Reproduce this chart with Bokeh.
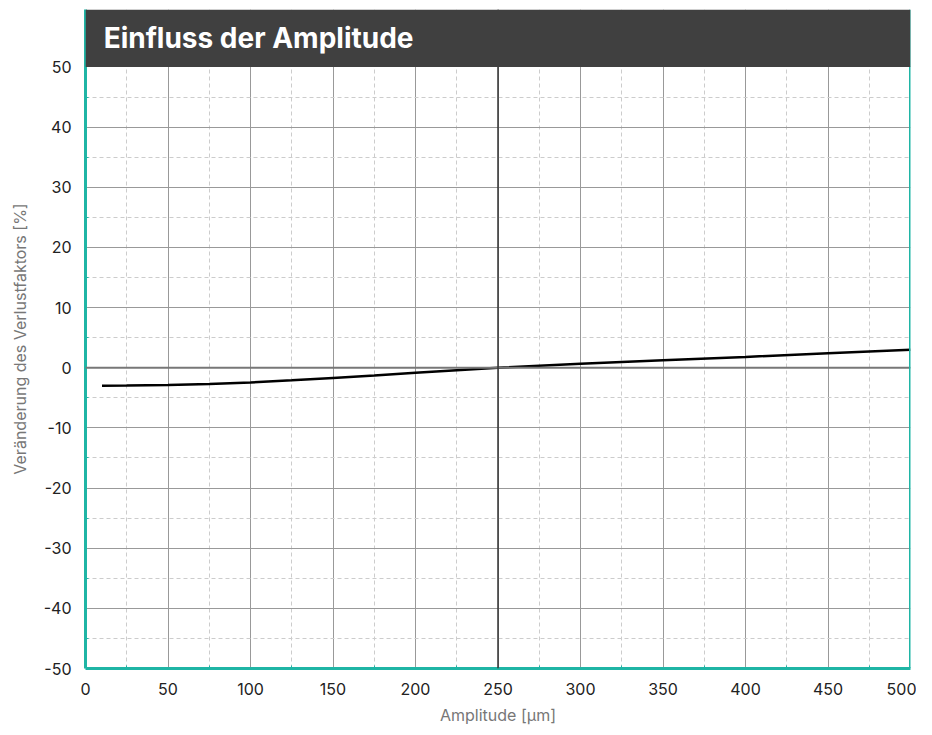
from bokeh.plotting import figure
from bokeh.models import Range1d, Span, BoxAnnotation, Label, PrintfTickFormatter, FixedTicker
from bokeh.embed import file_html
from bokeh.resources import INLINE

title_text = "Einfluss der Amplitude"
x_label = "Amplitude [µm]"
y_label = "Veränderung des Verlustfaktors [%]"

amplitude = [10, 25, 50, 75, 100, 125, 150, 175, 200, 225, 250, 300, 350, 400, 450, 500]
change = [-3.0, -2.95, -2.85, -2.7, -2.45, -2.1, -1.7, -1.3, -0.85, -0.42, 0.0, 0.65, 1.25, 1.8, 2.4, 3.0]

x_ticks = [0, 50, 100, 150, 200, 250, 300, 350, 400, 450, 500]
y_ticks = [-50, -40, -30, -20, -10, 0, 10, 20, 30, 40, 50]

TEAL = "#1fb5a5"
FONT = "Inter"

PLOT_H = 607
BAR_H = 58
y_top = 50 + BAR_H * 100.0 / PLOT_H

p = figure(width=916, height=727, output_backend="svg", toolbar_location=None,
           x_range=Range1d(0, 500), y_range=Range1d(-50, y_top),
           min_border_left=85, min_border_right=6, min_border_top=9, min_border_bottom=53)
p.outline_line_color = None
p.background_fill_color = "white"
p.border_fill_color = "white"

# grids
for g in (p.xgrid, p.ygrid):
    g.grid_line_color = "#999999"
    g.grid_line_width = 1
    g.minor_grid_line_color = "#cccccc"
    g.minor_grid_line_dash = "4 3"
    g.minor_grid_line_width = 1

p.xaxis.ticker = FixedTicker(ticks=x_ticks, minor_ticks=[25, 75, 125, 175, 225, 275, 325, 375, 425, 475])
p.yaxis.ticker = FixedTicker(ticks=y_ticks, minor_ticks=[-45, -35, -25, -15, -5, 5, 15, 25, 35, 45])
p.xgrid.ticker = p.xaxis.ticker
p.ygrid.ticker = p.yaxis.ticker

for ax in (p.xaxis, p.yaxis):
    ax.axis_line_color = TEAL
    ax.axis_line_width = 3
    ax.major_tick_line_color = None
    ax.minor_tick_line_color = TEAL
    ax.minor_tick_in = 3
    ax.minor_tick_out = 0
    ax.major_label_text_font = FONT
    ax.major_label_text_font_size = "16px"
    ax.major_label_text_color = "#222222"
    ax.axis_label_text_font = FONT
    ax.axis_label_text_font_size = "16px"
    ax.axis_label_text_color = "#777777"
    ax.axis_label_text_font_style = "normal"
    ax.formatter = PrintfTickFormatter(format="%d")

p.xaxis.axis_label = x_label
p.yaxis.axis_label = y_label
p.xaxis.major_label_standoff = 8
p.yaxis.major_label_standoff = 8
p.xaxis.axis_label_standoff = 7
p.yaxis.axis_label_standoff = 11

# reference lines
p.add_layout(Span(location=0, dimension="width", line_color="#777777", line_width=2))
p.add_layout(Span(location=250, dimension="height", line_color="#333333", line_width=1.5))
p.add_layout(Span(location=500, dimension="height", line_color=TEAL, line_width=3))

# data curve
p.line(amplitude, change, line_color="black", line_width=2.5)

# title bar (drawn above the plotting area inside the frame)
p.add_layout(BoxAnnotation(bottom=50, fill_color="#404040", fill_alpha=1,
                           line_color=None, level="overlay"))
p.add_layout(Label(x=11, y=(50 + y_top) / 2, text=title_text,
                   text_font=FONT, text_font_size="28px", text_font_style="bold",
                   text_color="white", text_baseline="middle", text_align="left", level="overlay"))

open("out.html", "w").write(file_html(p, INLINE))
